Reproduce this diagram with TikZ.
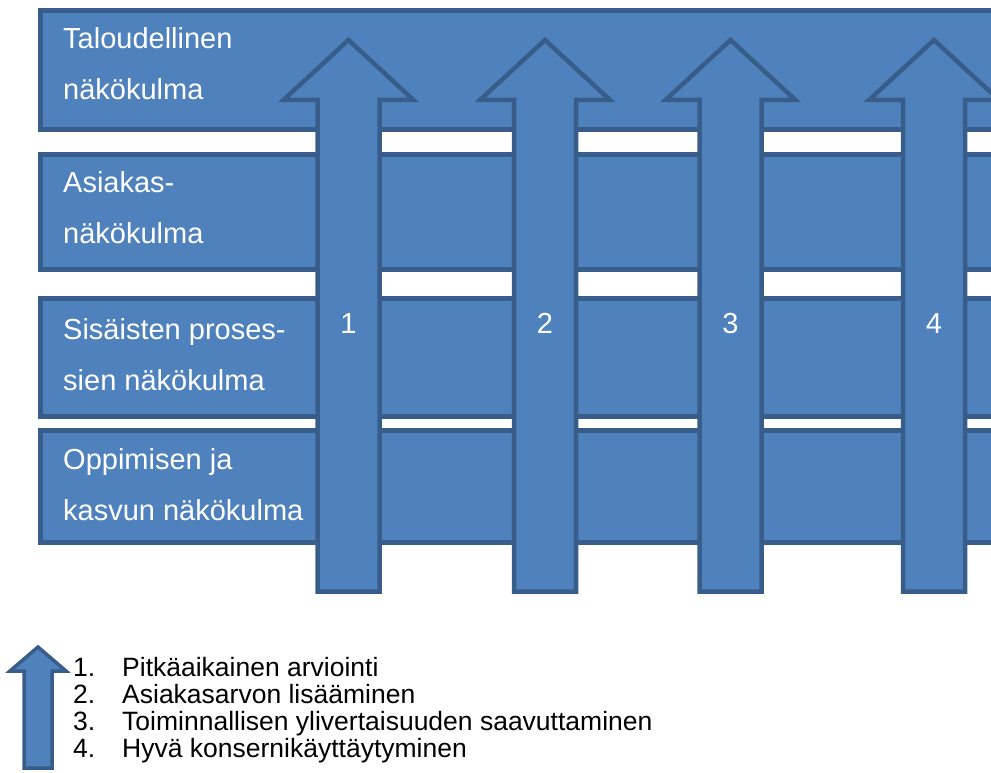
\documentclass[tikz,border=0pt]{standalone}
\usepackage{fontspec}
\setmainfont{Liberation Sans}
\usetikzlibrary{positioning}
\definecolor{bscFill}{HTML}{4F81BD}
\definecolor{bscLine}{HTML}{385D8A}
\tikzset{
  bscfig/.style={x=1pt, y=-1pt},
  band/.style={
    draw=bscLine, line width=4.5pt, fill=bscFill, anchor=north west,
    inner sep=0pt, outer sep=0pt, minimum width=980pt,
  },
  % base anchor of a two-line label sits on its second line
  bandlabel/.style={
    text=white, align=left, anchor=base west, inner sep=0pt,
    font=\fontsize{29}{51}\selectfont,
  },
  upshaft/.style={draw=bscLine, line width=4.5pt, fill=bscFill, line join=miter},
  keyshaft/.style={upshaft, line width=3.5pt},
  arrownum/.style={text=white, anchor=base, inner sep=0pt, font=\fontsize{29}{34}\selectfont},
  keyitem/.style={anchor=base west, inner sep=0pt, font=\fontsize{26.5}{27}\selectfont},
}
\begin{document}
\begin{tikzpicture}[bscfig]
  \useasboundingbox (0,0) rectangle (991,773);
  \clip (0,0) rectangle (991,773);
  % perspective bands
  \node[band, minimum height=119pt] (Financial) at (40.5,10.5) {};
  \node[band, minimum height=115pt] (Customer) at (40.5,154.5) {};
  \node[band, minimum height=118pt] (Process) at (40.5,298.5) {};
  \node[band, minimum height=112pt] (Learning) at (40.5,430.5) {};
  \node[bandlabel] (FinancialText) at (63,100) {Taloudellinen\\n\"ak\"okulma};
  \node[bandlabel] (CustomerText) at (63,243) {Asiakas-\\n\"ak\"okulma};
  \node[bandlabel] (ProcessText) at (63,390) {Sis\"aisten proses-\\sien n\"ak\"okulma};
  \node[bandlabel] (LearningText) at (63,520) {Oppimisen ja\\kasvun n\"ak\"okulma};
  % arrows across the bands
  \foreach \cx/\num in {348.5/1, 545/2, 730.5/3, 934/4} {
    \draw[upshaft] ({\cx-31},591.5) -- ({\cx-31},100) -- ({\cx-65},100) -- (\cx,40)
      -- ({\cx+65},100) -- ({\cx+31},100) -- ({\cx+31},591.5) -- cycle;
    \node[arrownum] (Num\num) at (\cx,333) {\num};
  }
  % key
  \draw[keyshaft] (24,768) -- (24,671) -- (10,671) -- (38,647) -- (66,671) -- (52,671) -- (52,768) -- cycle;
  \node[keyitem] (Item1) at (73,676) {\makebox[49pt][l]{1.}Pitk\"aaikainen arviointi};
  \node[keyitem] (Item2) at (73,703) {\makebox[49pt][l]{2.}Asiakasarvon lis\"a\"aminen};
  \node[keyitem] (Item3) at (73,730) {\makebox[49pt][l]{3.}Toiminnallisen ylivertaisuuden saavuttaminen};
  \node[keyitem] (Item4) at (73,757) {\makebox[49pt][l]{4.}Hyv\"a konsernik\"aytt\"aytyminen};
\end{tikzpicture}
\end{document}
